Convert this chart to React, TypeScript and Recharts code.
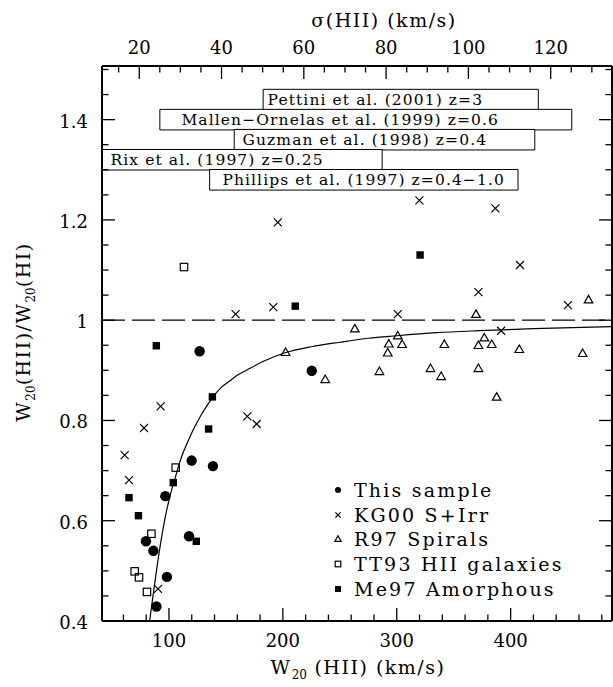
import React from 'react';
import {
  ComposedChart,
  Scatter,
  Line,
  XAxis,
  YAxis,
  ReferenceLine,
  ReferenceArea,
  ReferenceDot,
  Legend,
} from 'recharts';

// W20(HII) in km/s vs W20(HII)/W20(HI)
const thisSample = [
  { w: 126.9, r: 0.938 }, { w: 225.4, r: 0.899 }, { w: 119.9, r: 0.72 },
  { w: 138.6, r: 0.709 }, { w: 96.8, r: 0.649 }, { w: 117.6, r: 0.569 },
  { w: 79.8, r: 0.559 }, { w: 86.3, r: 0.54 }, { w: 98.2, r: 0.488 },
  { w: 89, r: 0.429 },
];

const kg00 = [
  { w: 61.1, r: 0.731 }, { w: 64.9, r: 0.681 }, { w: 78.1, r: 0.785 },
  { w: 92.7, r: 0.828 }, { w: 90.4, r: 0.464 }, { w: 158.5, r: 1.012 },
  { w: 168.8, r: 0.808 }, { w: 177, r: 0.793 }, { w: 191.6, r: 1.026 },
  { w: 195.6, r: 1.195 }, { w: 300.9, r: 1.012 }, { w: 319.9, r: 1.239 },
  { w: 371.7, r: 1.056 }, { w: 386.6, r: 1.223 }, { w: 391.6, r: 0.979 },
  { w: 408.2, r: 1.11 }, { w: 450.3, r: 1.03 },
];

const r97 = [
  { w: 468.4, r: 1.041 }, { w: 369.6, r: 1.012 }, { w: 263.2, r: 0.983 },
  { w: 300.9, r: 0.969 }, { w: 376.9, r: 0.965 }, { w: 293, r: 0.953 },
  { w: 304.7, r: 0.952 }, { w: 341.8, r: 0.952 }, { w: 371.7, r: 0.95 },
  { w: 383.4, r: 0.952 }, { w: 407.6, r: 0.942 }, { w: 463.2, r: 0.934 },
  { w: 292.1, r: 0.935 }, { w: 202.4, r: 0.936 }, { w: 237.2, r: 0.882 },
  { w: 284.8, r: 0.898 }, { w: 329.6, r: 0.904 }, { w: 339, r: 0.888 },
  { w: 371.7, r: 0.904 }, { w: 387.7, r: 0.847 },
];

const tt93 = [
  { w: 113.2, r: 1.106 }, { w: 105.9, r: 0.706 }, { w: 84.6, r: 0.574 },
  { w: 69.9, r: 0.499 }, { w: 73.7, r: 0.487 }, { w: 80.7, r: 0.458 },
];

const me97 = [
  { w: 88.9, r: 0.949 }, { w: 138.1, r: 0.847 }, { w: 134.8, r: 0.783 },
  { w: 103.8, r: 0.676 }, { w: 64.9, r: 0.646 }, { w: 73.2, r: 0.61 },
  { w: 124, r: 0.559 }, { w: 210.9, r: 1.028 }, { w: 320.5, r: 1.13 },
];

// model curve
const curve = [
  { w: 83, r: 0.4 }, { w: 86, r: 0.45 }, { w: 89, r: 0.5 }, { w: 93, r: 0.56 },
  { w: 97, r: 0.61 }, { w: 101, r: 0.65 }, { w: 106, r: 0.69 }, { w: 111, r: 0.727 },
  { w: 116, r: 0.755 }, { w: 121, r: 0.78 }, { w: 128, r: 0.81 }, { w: 135, r: 0.835 },
  { w: 139, r: 0.848 }, { w: 146, r: 0.866 }, { w: 153, r: 0.878 }, { w: 160, r: 0.89 },
  { w: 168, r: 0.9 }, { w: 182, r: 0.917 }, { w: 202, r: 0.935 }, { w: 225, r: 0.947 },
  { w: 250, r: 0.956 }, { w: 275, r: 0.964 }, { w: 300, r: 0.969 }, { w: 335, r: 0.975 },
  { w: 372, r: 0.979 }, { w: 420, r: 0.983 }, { w: 489, r: 0.987 },
];

// literature ranges drawn as boxes near the top
const surveyNames = [
  'Pettini et al. (2001) z=3',
  'Mallen\u2212Ornelas et al. (1999) z=0.6',
  'Guzman et al. (1998) z=0.4',
  'Rix et al. (1997) z=0.25',
  'Phillips et al. (1997) z=0.4\u22121.0',
];
const surveyFrom = [182.7, 92, 157.3, 41.2, 135.7];
const surveyTo = [424.3, 453.7, 421.2, 287.2, 406.5];
const surveyRow = [1.44, 1.4, 1.36, 1.32, 1.28];
const surveyTextAt = [186.6, 110.9, 164.6, 48.7, 146.9];

const wTicks = [60, 80, 100, 120, 140, 160, 180, 200, 220, 240, 260, 280, 300, 320, 340, 360, 380, 400, 420, 440, 460, 480];
const wMajor = [100, 200, 300, 400];
const sigmaTicks = [15, 20, 25, 30, 35, 40, 45, 50, 55, 60, 65, 70, 75, 80, 85, 90, 95, 100, 105, 110, 115, 120, 125, 130];
const sigmaMajor = [20, 40, 60, 80, 100, 120];
const rTicks = [0.4, 0.45, 0.5, 0.55, 0.6, 0.65, 0.7, 0.75, 0.8, 0.85, 0.9, 0.95, 1, 1.05, 1.1, 1.15, 1.2, 1.25, 1.3, 1.35, 1.4, 1.45, 1.5];
const rMajor = [0.4, 0.6, 0.8, 1, 1.2, 1.4];
const rLabels = ['0.4', '0.6', '0.8', '1', '1.2', '1.4'];

const legendNames = ['This sample', 'KG00 S+Irr', 'R97 Spirals', 'TT93 HII galaxies', 'Me97 Amorphous'];

const FONT = "'DejaVu Serif', serif";
const BIG = 13;
const SMALL = 6.5;

const near = (v: number, list: number[]) => list.findIndex((m) => Math.abs(m - v) < 1e-6);

function BottomTick({ x = 0, y = 0, payload }: any) {
  const v = payload?.value ?? 0;
  const big = near(v, wMajor) >= 0;
  return (
    <g>
      <line x1={x} y1={y} x2={x} y2={y - (big ? BIG : SMALL)} stroke="#000" strokeWidth={1.3} />
      {big && (
        <text x={x} y={y + 26} textAnchor="middle" fontSize={18} fontFamily={FONT} fill="#000">
          {v}
        </text>
      )}
    </g>
  );
}

function TopTick({ x = 0, y = 0, payload }: any) {
  const v = payload?.value ?? 0;
  const big = near(v, sigmaMajor) >= 0;
  return (
    <g>
      <line x1={x} y1={y} x2={x} y2={y + (big ? BIG : SMALL)} stroke="#000" strokeWidth={1.3} />
      {big && (
        <text x={x} y={y - 12} textAnchor="middle" fontSize={18} fontFamily={FONT} fill="#000">
          {v}
        </text>
      )}
    </g>
  );
}

function LeftTick({ x = 0, y = 0, payload }: any) {
  const v = payload?.value ?? 0;
  const i = near(v, rMajor);
  return (
    <g>
      <line x1={x} y1={y} x2={x + (i >= 0 ? BIG : SMALL)} y2={y} stroke="#000" strokeWidth={1.3} />
      {i >= 0 && (
        <text x={x - 14} y={y + 8} textAnchor="end" fontSize={18} fontFamily={FONT} fill="#000">
          {rLabels[i]}
        </text>
      )}
    </g>
  );
}

function RightTick({ x = 0, y = 0, payload }: any) {
  const v = payload?.value ?? 0;
  const big = near(v, rMajor) >= 0;
  return <line x1={x} y1={y} x2={x - (big ? BIG : SMALL)} y2={y} stroke="#000" strokeWidth={1.3} />;
}

// marker shapes
const Dot = ({ cx, cy, s = 5.2 }: any) => <circle cx={cx} cy={cy} r={s} fill="#000" />;
const Cross = ({ cx, cy, s = 4 }: any) => (
  <path
    d={`M${cx - s},${cy - s}L${cx + s},${cy + s}M${cx - s},${cy + s}L${cx + s},${cy - s}`}
    stroke="#000"
    strokeWidth={1.2}
    fill="none"
  />
);
const Tri = ({ cx, cy, s = 4.3 }: any) => (
  <path
    d={`M${cx},${cy - s}L${cx + s},${cy + s * 0.75}L${cx - s},${cy + s * 0.75}Z`}
    stroke="#000"
    strokeWidth={1.2}
    fill="none"
  />
);
const OpenSq = ({ cx, cy, s = 3.7 }: any) => (
  <rect x={cx - s} y={cy - s} width={2 * s} height={2 * s} stroke="#000" strokeWidth={1.2} fill="none" />
);
const FullSq = ({ cx, cy, s = 3.7 }: any) => (
  <rect x={cx - s} y={cy - s} width={2 * s} height={2 * s} fill="#000" />
);

const legendShapes = [Dot, Cross, Tri, OpenSq, FullSq];
const legendSizes = [3, 2.6, 3.2, 2.8, 3];

function LegendBox() {
  return (
    <div style={{ fontFamily: FONT, fontSize: 19, letterSpacing: 2.2, color: '#000' }}>
      {legendNames.map((name, i) => {
        const Shape = legendShapes[i];
        return (
          <div key={name} style={{ display: 'flex', alignItems: 'center', height: 24.6, whiteSpace: 'nowrap' }}>
            <svg width={16} height={12} style={{ marginRight: 7 }}>
              <Shape cx={7} cy={6} s={legendSizes[i]} />
            </svg>
            <span>{name}</span>
          </div>
        );
      })}
    </div>
  );
}

const titleStyle: React.CSSProperties = {
  position: 'absolute',
  fontFamily: FONT,
  fontSize: 19,
  letterSpacing: 1.5,
  whiteSpace: 'nowrap',
  color: '#000',
  lineHeight: 1,
};
const subStyle: React.CSSProperties = { fontSize: 12, letterSpacing: 0, verticalAlign: -5 };

export default function App() {
  return (
    <div style={{ position: 'absolute', left: 0, top: 0, width: 613, height: 687, background: '#fff' }}>
      <ComposedChart width={613} height={687} margin={{ top: 26, right: 0, bottom: 26, left: 42 }}>
        <XAxis
          xAxisId="b"
          type="number"
          dataKey="w"
          domain={[41.2, 489]}
          allowDataOverflow
          ticks={wTicks}
          interval={0}
          tickSize={0}
          tickMargin={0}
          tick={BottomTick}
          height={40}
          axisLine={{ stroke: '#000', strokeWidth: 2 }}
        />
        <XAxis
          xAxisId="t"
          orientation="top"
          type="number"
          dataKey="w"
          domain={[10.95, 134.9]}
          allowDataOverflow
          ticks={sigmaTicks}
          interval={0}
          tickSize={0}
          tickMargin={0}
          tick={TopTick}
          height={40}
          axisLine={{ stroke: '#000', strokeWidth: 2 }}
        />
        <YAxis
          yAxisId="l"
          type="number"
          dataKey="r"
          domain={[0.4, 1.507]}
          allowDataOverflow
          ticks={rTicks}
          interval={0}
          tickSize={0}
          tickMargin={0}
          tick={LeftTick}
          width={60}
          axisLine={{ stroke: '#000', strokeWidth: 2 }}
        />
        <YAxis
          yAxisId="rt"
          orientation="right"
          type="number"
          dataKey="r"
          domain={[0.4, 1.507]}
          allowDataOverflow
          ticks={rTicks}
          interval={0}
          tickSize={0}
          tickMargin={0}
          tick={RightTick}
          width={1}
          axisLine={{ stroke: '#000', strokeWidth: 2 }}
        />

        {surveyNames.map((name, i) => (
          <ReferenceArea
            key={name}
            xAxisId="b"
            yAxisId="l"
            x1={surveyFrom[i]}
            x2={surveyTo[i]}
            y1={surveyRow[i] - 0.0205}
            y2={surveyRow[i] + 0.0205}
            fill="#fff"
            fillOpacity={1}
            stroke="#000"
            strokeWidth={1}
            ifOverflow="hidden"
          />
        ))}
        {surveyNames.map((name, i) => (
          <ReferenceDot
            key={'t' + name}
            xAxisId="b"
            yAxisId="l"
            x={surveyTextAt[i]}
            y={surveyRow[i]}
            r={0}
            shape={(p: any) => (
              <text x={p.cx} y={p.cy + 5.5} fontSize={15.5} letterSpacing={1.1} fontFamily={FONT} fill="#000">
                {name}
              </text>
            )}
          />
        ))}

        <ReferenceLine xAxisId="b" yAxisId="l" y={1} stroke="#000" strokeWidth={1.2} strokeDasharray="23 7" />

        <Line
          xAxisId="b"
          yAxisId="l"
          data={curve}
          dataKey="r"
          type="monotone"
          stroke="#000"
          strokeWidth={1.2}
          dot={false}
          activeDot={false}
          isAnimationActive={false}
          legendType="none"
        />
        <Scatter xAxisId="b" yAxisId="l" name="R97 Spirals" data={r97} shape={Tri} isAnimationActive={false} />
        <Scatter xAxisId="b" yAxisId="l" name="KG00 S+Irr" data={kg00} shape={Cross} isAnimationActive={false} />
        <Scatter xAxisId="b" yAxisId="l" name="TT93 HII galaxies" data={tt93} shape={OpenSq} isAnimationActive={false} />
        <Scatter xAxisId="b" yAxisId="l" name="Me97 Amorphous" data={me97} shape={FullSq} isAnimationActive={false} />
        <Scatter xAxisId="b" yAxisId="l" name="This sample" data={thisSample} shape={Dot} isAnimationActive={false} />
        <Scatter xAxisId="t" yAxisId="rt" data={[]} isAnimationActive={false} legendType="none" />

        <Legend
          layout="vertical"
          align="center"
          verticalAlign="middle"
          content={LegendBox}
          wrapperStyle={{ position: 'absolute', left: 331, top: 478, width: 270, height: 125 }}
        />
      </ComposedChart>

      <div style={{ ...titleStyle, left: 384, top: 20, transform: 'translate(-50%, -50%)' }}>
        σ(HII) (km/s)
      </div>
      <div style={{ ...titleStyle, left: 358, top: 669, transform: 'translate(-50%, -50%)' }}>
        W<span style={subStyle}>20</span> (HII) (km/s)
      </div>
      <div
        style={{
          ...titleStyle,
          left: 25,
          top: 332,
          transform: 'translate(-50%, -50%) rotate(-90deg)',
        }}
      >
        W<span style={subStyle}>20</span>(HII)/W<span style={subStyle}>20</span>(HI)
      </div>
    </div>
  );
}
